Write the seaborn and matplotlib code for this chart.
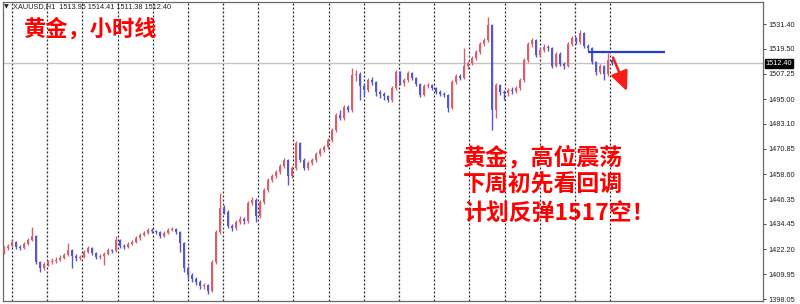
import matplotlib
matplotlib.use("Agg")
import matplotlib.pyplot as plt
import seaborn as sns
import numpy as np
import pandas as pd

# ---------------- data ----------------
first_open = 1420.8
closes = [
    1422.8, 1423.8, 1425.7, 1423.3, 1422.8, 1424.7, 1426.7, 1428.6, 1416.0, 1413.1,
    1415.0, 1416.0, 1416.5, 1417.0, 1417.9, 1419.4, 1421.8, 1418.9, 1417.9, 1418.4,
    1420.8, 1422.8, 1420.4, 1418.4, 1418.9, 1419.9, 1421.8, 1421.3, 1426.7, 1423.8,
    1423.3, 1424.7, 1425.7, 1427.6, 1429.1, 1430.1, 1431.5, 1431.0, 1430.5, 1428.6,
    1430.1, 1431.5, 1432.0, 1430.5, 1425.2, 1413.1, 1409.7, 1407.8, 1406.3, 1404.4,
    1404.8, 1401.9, 1416.0, 1430.5, 1442.2, 1440.2, 1433.5, 1432.5, 1435.4, 1436.9,
    1435.9, 1444.6, 1446.1, 1438.3, 1445.1, 1450.9, 1455.8, 1457.7, 1459.6, 1462.6,
    1465.5, 1457.7, 1461.6, 1473.7, 1465.5, 1461.6, 1464.0, 1465.5, 1468.4, 1470.3,
    1471.8, 1475.2, 1480.0, 1487.3, 1485.8, 1491.2, 1489.7, 1506.7, 1507.2, 1501.3,
    1499.4, 1504.3, 1503.3, 1498.4, 1497.5, 1496.5, 1494.6, 1500.4, 1508.1, 1502.8,
    1504.3, 1507.6, 1505.2, 1502.3, 1497.0, 1501.3, 1501.8, 1500.4, 1498.4, 1497.5,
    1497.0, 1490.7, 1503.3, 1506.2, 1505.2, 1511.0, 1512.5, 1514.9, 1517.8, 1521.7,
    1523.6, 1530.9, 1489.7, 1501.8, 1498.4, 1497.9, 1499.4, 1498.9, 1500.4, 1504.3,
    1514.0, 1521.7, 1523.6, 1516.4, 1518.8, 1520.3, 1519.8, 1511.0, 1516.9, 1512.0,
    1511.0, 1521.7, 1524.6, 1522.7, 1527.0, 1520.7, 1519.8, 1513.0, 1508.1, 1511.0,
    1507.2, 1513.95, 1512.40,
]
highs = [
    1423.8, 1424.7, 1426.7, 1426.2, 1424.2, 1425.7, 1427.6, 1433.0, 1429.1, 1416.5,
    1416.0, 1417.0, 1417.9, 1418.4, 1419.4, 1420.4, 1425.2, 1422.3, 1419.9, 1419.4,
    1421.8, 1423.8, 1423.3, 1420.8, 1419.9, 1420.8, 1422.8, 1422.3, 1428.6, 1427.2,
    1424.7, 1425.7, 1426.7, 1428.6, 1430.1, 1431.0, 1432.5, 1432.5, 1431.5, 1431.0,
    1431.0, 1432.5, 1433.0, 1432.5, 1431.0, 1425.7, 1414.0, 1410.7, 1408.7, 1407.3,
    1405.8, 1405.3, 1417.0, 1431.5, 1449.5, 1443.6, 1441.2, 1434.5, 1436.4, 1438.3,
    1437.9, 1445.6, 1447.5, 1447.0, 1446.1, 1451.9, 1456.7, 1458.7, 1460.6, 1463.5,
    1466.5, 1466.0, 1462.6, 1474.7, 1474.2, 1466.5, 1465.0, 1466.5, 1469.4, 1471.3,
    1472.8, 1476.1, 1481.0, 1488.3, 1489.7, 1492.2, 1492.2, 1510.1, 1509.1, 1508.1,
    1502.3, 1505.2, 1505.7, 1503.8, 1499.4, 1498.4, 1497.0, 1501.3, 1509.1, 1508.6,
    1505.2, 1508.6, 1508.1, 1505.7, 1502.8, 1502.3, 1502.8, 1502.3, 1500.9, 1499.4,
    1498.4, 1497.5, 1504.3, 1507.2, 1507.2, 1519.8, 1513.5, 1515.9, 1518.8, 1522.7,
    1524.6, 1534.8, 1531.4, 1502.8, 1502.3, 1499.4, 1500.4, 1500.9, 1501.3, 1505.2,
    1514.9, 1522.7, 1524.6, 1524.1, 1519.8, 1521.7, 1521.2, 1520.3, 1517.8, 1517.8,
    1513.0, 1522.7, 1525.6, 1525.1, 1528.5, 1527.5, 1521.7, 1520.3, 1513.5, 1512.0,
    1511.5, 1517.4, 1514.41,
]
lows = [
    1419.9, 1421.8, 1423.3, 1422.3, 1421.8, 1422.3, 1424.2, 1426.2, 1415.0, 1411.2,
    1412.1, 1414.0, 1415.0, 1415.5, 1416.5, 1417.4, 1418.9, 1413.1, 1416.5, 1416.9,
    1417.9, 1420.4, 1419.4, 1417.4, 1417.4, 1414.5, 1419.4, 1420.4, 1420.8, 1422.8,
    1422.3, 1422.8, 1424.2, 1425.2, 1426.7, 1428.6, 1429.6, 1430.1, 1429.6, 1427.6,
    1428.1, 1429.6, 1431.0, 1429.6, 1420.8, 1411.2, 1407.8, 1406.3, 1404.8, 1402.9,
    1402.9, 1400.5, 1401.4, 1415.0, 1429.6, 1439.3, 1432.5, 1431.0, 1431.5, 1434.5,
    1434.5, 1435.0, 1443.6, 1435.4, 1437.4, 1444.1, 1449.9, 1454.8, 1456.7, 1458.7,
    1461.6, 1453.3, 1456.7, 1460.6, 1464.5, 1460.6, 1460.6, 1463.0, 1464.5, 1467.4,
    1469.4, 1470.8, 1474.2, 1479.0, 1484.8, 1484.8, 1488.7, 1488.7, 1503.8, 1494.6,
    1496.5, 1498.4, 1501.8, 1496.5, 1495.5, 1494.6, 1493.6, 1493.6, 1499.4, 1501.8,
    1501.3, 1503.3, 1504.3, 1501.3, 1496.0, 1496.5, 1500.4, 1499.4, 1497.5, 1496.5,
    1496.0, 1488.7, 1490.2, 1502.3, 1504.3, 1504.8, 1509.6, 1511.5, 1513.9, 1516.9,
    1520.7, 1522.7, 1480.0, 1485.8, 1497.0, 1494.6, 1496.5, 1497.5, 1497.9, 1499.4,
    1503.3, 1513.0, 1520.3, 1515.4, 1515.4, 1517.8, 1518.3, 1510.1, 1510.5, 1511.0,
    1509.6, 1510.5, 1520.7, 1521.7, 1521.7, 1519.8, 1518.3, 1512.0, 1506.7, 1507.2,
    1504.3, 1506.2, 1511.38,
]
price_ticks = [1531.40, 1519.50, 1507.25, 1495.00, 1483.10, 1470.85,
               1458.60, 1446.35, 1434.45, 1422.20, 1409.95, 1398.05]
last_price = 1512.40
plan_level = 1517.8
header = "XAUUSD,H1  1513.95 1514.41 1511.38 1512.40"
title_text = "黄金，小时线"
note_lines = ["黄金，高位震荡", "下周初先看回调", "计划反弹1517空！"]

# ---------------- build frame ----------------
df = pd.DataFrame({"close": closes, "high": highs, "low": lows})
df["open"] = [first_open] + closes[:-1]
df["bar"] = np.arange(len(df))
df["up"] = df["close"] >= df["open"]

sns.set_theme(style="white")
plt.rcParams["font.family"] = ["Noto Sans CJK SC", "DejaVu Sans"]

W, H = 800, 304
fig = plt.figure(figsize=(8, 3.04), dpi=100)
fig.patch.set_facecolor("white")
ax = fig.add_axes([3 / W, 3 / H, 760 / W, 299 / H])
ax.set_facecolor("white")

up_col = "#d9606a"
dn_col = "#5656d2"
cols = np.where(df["up"], up_col, dn_col)

ax.set_xlim(-0.25, 189.75)
ax.set_ylim(1397.09, 1542.07)

# vertical dotted separators
px_to_bar = lambda px: (px - 4) / 4.0
for k in range(18):
    ax.axvline(px_to_bar(12 + 35.18 * k), color="#2a2a2a", lw=0.9,
               ls=(0, (1.6, 1.6)), zorder=1)

# current price line
ax.axhline(last_price, color="#c4c4c4", lw=1.0, zorder=1)

# candles
ax.vlines(df["bar"], df["low"], df["high"], colors=cols, lw=1.0, zorder=3)
body_lo = np.minimum(df["open"], df["close"])
body_h = np.maximum(np.abs(df["close"] - df["open"]), 0.4)
ax.bar(df["bar"], body_h, bottom=body_lo, width=0.6, color=cols,
       linewidth=0, zorder=4)

# plan level line and arrow
ax.hlines(plan_level, px_to_bar(588), px_to_bar(665), color="#1f3fd2",
          lw=1.6, zorder=5)
ax.annotate("", xy=(px_to_bar(628), 1497.6), xytext=(px_to_bar(612), 1516.4),
            arrowprops=dict(arrowstyle="-|>,head_length=1.0,head_width=0.45",
                            color="#ff1a1a", lw=1.8, mutation_scale=12),
            zorder=6)

# axes frame and ticks
for s in ax.spines.values():
    s.set_color("#6a6a6a")
    s.set_linewidth(0.9)
ax.yaxis.tick_right()
ax.set_yticks(price_ticks)
ax.set_yticklabels([f"{v:.2f}" for v in price_ticks],
                   fontfamily="Liberation Sans", fontsize=5.3, color="#222222")
ax.tick_params(axis="y", direction="out", length=2.5, width=0.7, pad=1.5,
               colors="#444444", labelcolor="#222222")
ax.set_xticks([px_to_bar(3 + 48.8 * k) for k in range(16)])
ax.set_xticklabels([])
ax.tick_params(axis="x", direction="out", length=3, width=0.7, colors="#444444")
ax.grid(False)

# current price tag
ax.text(1.0035, last_price, f"{last_price:.2f}", transform=ax.get_yaxis_transform(),
        ha="left", va="center", fontsize=5.3, fontfamily="Liberation Sans",
        color="white",
        bbox=dict(boxstyle="square,pad=0.15", fc="black", ec="black"),
        clip_on=False, zorder=7)

# header
fig.text(4 / W, 1 - 7 / H, "▼", fontsize=4.5, color="#222222",
         fontfamily="DejaVu Sans", va="center", ha="left")
fig.text(13 / W, 1 - 7 / H, header, fontsize=5.3, color="#222222",
         fontfamily="Liberation Sans", va="center", ha="left")

# annotations
fig.text(24 / W, 1 - 29 / H, title_text, fontsize=16, color="#ff0000",
         fontweight="bold", va="center", ha="left")
for i, line in enumerate(note_lines):
    fig.text(463 / W, 1 - (158 + 27.5 * i) / H, line, fontsize=16.5,
             color="#ff0000", fontweight="bold", va="center", ha="left",
             family=["Noto Sans CJK SC", "DejaVu Sans"])

fig.savefig("out.png", dpi=100, facecolor="white")
